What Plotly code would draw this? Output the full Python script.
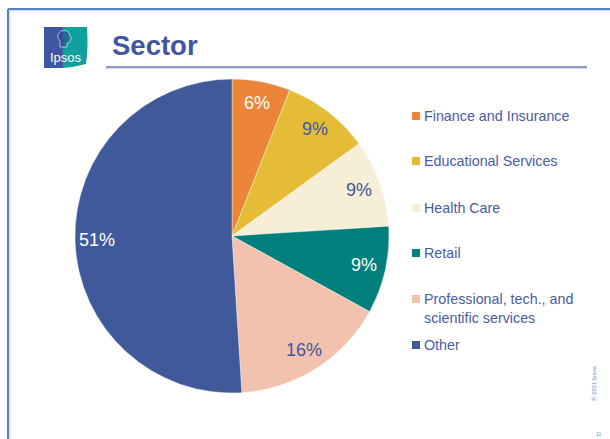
import math
import plotly.graph_objects as go

# ---------------- data ----------------
categories = ["Finance and Insurance", "Educational Services", "Health Care",
              "Retail", "Professional, tech., and<br>scientific services", "Other"]
values = [6, 9, 9, 9, 16, 51]
title_text = "Sector"

# ---------------- style ----------------
W, H = 610, 439
slice_colors = ["#EC843A", "#E4BC35", "#F6EED6", "#00807D", "#F2C2AE", "#40599A"]
label_colors = ["#FFFFFF", "#3F56A0", "#3F56A0", "#FFFFFF", "#3F56A0", "#FFFFFF"]
BLUE = "#3F56A0"
LEG_TXT = "#4A5BA5"
FONT = "Liberation Sans, Arial, sans-serif"


def px(x):
    return x / W


def py(y):
    return 1 - y / H


# pie geometry (pixels)
cx, cy, r = 232, 236, 157

fig = go.Figure()
fig.add_trace(go.Pie(
    labels=categories,
    values=values,
    sort=False,
    direction="clockwise",
    rotation=0,
    marker=dict(colors=slice_colors, line=dict(color="#FFFFFF", width=0.4)),
    textinfo="none",
    hoverinfo="label+percent",
    showlegend=False,
    domain=dict(x=[px(cx - r), px(cx + r)], y=[py(cy + r), py(cy - r)]),
))

annotations = []
shapes = []

# percentage labels computed from the data
total = sum(values)
cum = 0
for v, col in zip(values, label_colors):
    mid = (cum + v / 2) / total * 2 * math.pi
    cum += v
    lx = cx + 0.86 * r * math.sin(mid)
    ly = cy - 0.86 * r * math.cos(mid)
    annotations.append(dict(
        x=px(lx), y=py(ly), xref="paper", yref="paper",
        text=f"{round(v / total * 100)}%", showarrow=False,
        font=dict(family=FONT, size=18, color=col),
        xanchor="center", yanchor="middle"))

# legend (built from categories/colours)
legend_y = [116, 161, 208, 253, 308, 345]
for name, col, ly in zip(categories, slice_colors, legend_y):
    n_lines = name.count("<br>") + 1
    sq_y = ly - (n_lines - 1) * 9
    shapes.append(dict(type="rect", xref="paper", yref="paper",
                       x0=px(412), x1=px(420), y0=py(sq_y + 4), y1=py(sq_y - 4),
                       fillcolor=col, line=dict(width=0)))
    annotations.append(dict(
        x=px(421.5), y=py(ly), xref="paper", yref="paper", text=name,
        showarrow=False, align="left", xanchor="left", yanchor="middle",
        font=dict(family=FONT, size=14.3, color=LEG_TXT)))

# slide frame
shapes.append(dict(type="line", xref="paper", yref="paper",
                   x0=px(8), x1=px(W + 5), y0=py(9), y1=py(9),
                   line=dict(color="#5583C2", width=2)))
shapes.append(dict(type="line", xref="paper", yref="paper",
                   x0=px(8), x1=px(8), y0=py(9), y1=py(H + 5),
                   line=dict(color="#5583C2", width=2)))
shapes.append(dict(type="line", xref="paper", yref="paper",
                   x0=px(10), x1=px(W + 5), y0=py(10.8), y1=py(10.8),
                   line=dict(color="#C4D5EE", width=1)))
shapes.append(dict(type="line", xref="paper", yref="paper",
                   x0=px(9.8), x1=px(9.8), y0=py(10), y1=py(H + 5),
                   line=dict(color="#C4D5EE", width=1)))

# title underline
shapes.append(dict(type="line", xref="paper", yref="paper",
                   x0=px(106), x1=px(587), y0=py(67), y1=py(67),
                   line=dict(color="#6C78B4", width=1.5)))
shapes.append(dict(type="line", xref="paper", yref="paper",
                   x0=px(106), x1=px(587), y0=py(68.5), y1=py(68.5),
                   line=dict(color="#D3D8EB", width=1)))

# Ipsos logo
shapes.append(dict(type="rect", xref="paper", yref="paper",
                   x0=px(44), x1=px(64), y0=py(68), y1=py(27),
                   fillcolor=BLUE, line=dict(width=0)))
teal_path = (f"M {px(63)},{py(27)} L {px(87)},{py(27)} "
             f"Q {px(88.5)},{py(47)} {px(86)},{py(64)} "
             f"Q {px(75)},{py(67)} {px(63)},{py(68)} Z")
shapes.append(dict(type="path", xref="paper", yref="paper", path=teal_path,
                   fillcolor="#12A09D", line=dict(width=0)))
# head silhouette
head_path = (f"M {px(60)},{py(47)} L {px(60)},{py(41)} "
             f"Q {px(57)},{py(39)} {px(58)},{py(34)} "
             f"Q {px(61)},{py(29.5)} {px(66)},{py(30.5)} "
             f"Q {px(70)},{py(32)} {px(70)},{py(36)} "
             f"L {px(71.5)},{py(38.5)} L {px(70)},{py(39.5)} "
             f"L {px(70)},{py(42)} L {px(67)},{py(43)} L {px(67)},{py(47)} Z")
shapes.append(dict(type="path", xref="paper", yref="paper", path=head_path,
                   fillcolor="rgba(40,70,140,0.55)",
                   line=dict(color="rgba(255,255,255,0.75)", width=0.8)))
annotations.append(dict(x=px(65.5), y=py(58), xref="paper", yref="paper",
                        text="Ipsos", showarrow=False,
                        font=dict(family=FONT, size=13, color="#FFFFFF"),
                        xanchor="center", yanchor="middle"))

# title
annotations.append(dict(x=px(110), y=py(45.5), xref="paper", yref="paper",
                        text=f"<b>{title_text}</b>", showarrow=False,
                        font=dict(family=FONT, size=27.5, color=BLUE),
                        xanchor="left", yanchor="middle"))

# copyright & page number
annotations.append(dict(x=px(594), y=py(384), xref="paper", yref="paper",
                        text="© 2011 Ipsos", textangle=-90, showarrow=False,
                        font=dict(family=FONT, size=6, color="#6A86C4"),
                        xanchor="center", yanchor="middle"))
annotations.append(dict(x=px(598), y=py(434), xref="paper", yref="paper",
                        text="11", showarrow=False,
                        font=dict(family=FONT, size=5, color="#6A86C4"),
                        xanchor="center", yanchor="middle"))

fig.update_layout(
    width=W, height=H,
    margin=dict(l=0, r=0, t=0, b=0),
    paper_bgcolor="#FFFFFF",
    plot_bgcolor="#FFFFFF",
    showlegend=False,
    shapes=shapes,
    annotations=annotations,
)

fig.write_html(
    "out.html",
    config={"displayModeBar": False},
    post_script="document.body.style.margin='0';document.body.style.padding='0';",
)
